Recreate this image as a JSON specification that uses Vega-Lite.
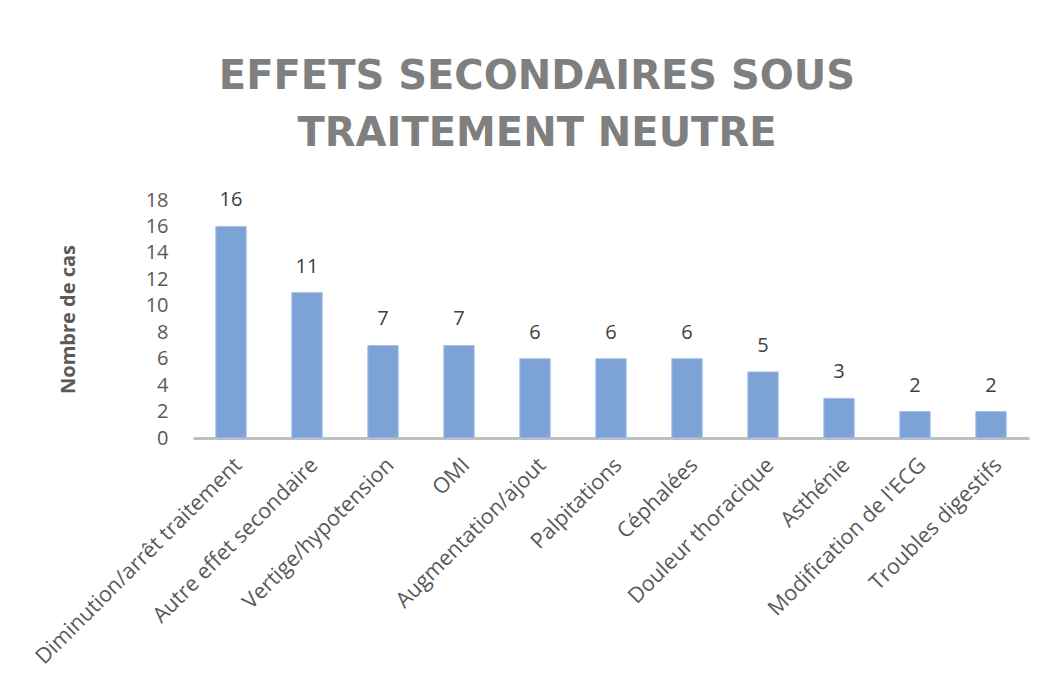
{
  "$schema": "https://vega.github.io/schema/vega-lite/v6.json",
  "width": 836,
  "height": 238,
  "autosize": {"type": "none"},
  "padding": {"left": 193, "top": 200, "right": 16, "bottom": 241},
  "background": "white",
  "config": {"view": {"stroke": null}, "font": "Open Sans"},
  "title": {
    "text": ["EFFETS SECONDAIRES SOUS", "TRAITEMENT NEUTRE"],
    "anchor": "middle",
    "dx": -74,
    "offset": 36,
    "font": "DejaVu Sans",
    "fontSize": 40,
    "fontWeight": "bold",
    "color": "#7f7f7f",
    "lineHeight": 57
  },
  "data": {
    "values": [
      {"effet": "Diminution/arrêt traitement", "cas": 16},
      {"effet": "Autre effet secondaire", "cas": 11},
      {"effet": "Vertige/hypotension", "cas": 7},
      {"effet": "OMI", "cas": 7},
      {"effet": "Augmentation/ajout", "cas": 6},
      {"effet": "Palpitations", "cas": 6},
      {"effet": "Céphalées", "cas": 6},
      {"effet": "Douleur thoracique", "cas": 5},
      {"effet": "Asthénie", "cas": 3},
      {"effet": "Modification de l'ECG", "cas": 2},
      {"effet": "Troubles digestifs", "cas": 2}
    ]
  },
  "encoding": {
    "x": {
      "field": "effet",
      "type": "nominal",
      "sort": null,
      "scale": {"paddingInner": 0.6, "paddingOuter": 0.3},
      "axis": {
        "title": null,
        "labelAngle": -45,
        "labelFontSize": 21.5,
        "labelColor": "#595959",
        "labelPadding": 16,
        "ticks": false,
        "domainColor": "#bfbfbf",
        "domainWidth": 3,
        "labelLimit": 400
      }
    },
    "y": {
      "field": "cas",
      "type": "quantitative",
      "scale": {"domain": [0, 18]},
      "axis": {
        "title": "Nombre de cas",
        "titleFontSize": 20,
        "titleFontWeight": "bold",
        "titleColor": "#595959",
        "titlePadding": 67,
        "values": [0, 2, 4, 6, 8, 10, 12, 14, 16, 18],
        "labelFontSize": 20,
        "labelColor": "#595959",
        "labelPadding": 25,
        "ticks": false,
        "domain": false,
        "grid": false
      }
    }
  },
  "layer": [
    {
      "mark": {"type": "bar", "fill": "#7ca2d6", "stroke": "#a9c3e8", "strokeWidth": 1}
    },
    {
      "mark": {"type": "text", "dy": -20, "fontSize": 20, "color": "#404040", "baseline": "alphabetic"},
      "encoding": {"text": {"field": "cas", "type": "quantitative"}}
    }
  ]
}
